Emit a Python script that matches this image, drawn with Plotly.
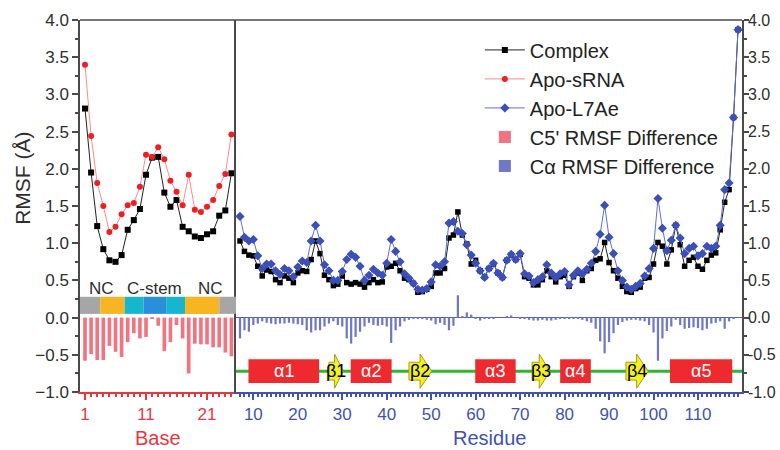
import plotly.graph_objects as go

# ---------------- data ----------------
bases = list(range(1, 26))
complex_rna = [2.81, 1.95, 1.23, 0.92, 0.77, 0.75, 0.84, 1.18, 1.31, 1.46, 1.92, 2.15, 2.16,
               1.68, 1.49, 1.58, 1.22, 1.16, 1.09, 1.07, 1.12, 1.16, 1.37, 1.44, 1.94]
apo_srna = [3.40, 2.44, 1.81, 1.50, 1.15, 1.22, 1.39, 1.51, 1.54, 1.76, 2.19, 2.16, 2.29,
            2.13, 1.84, 1.69, 1.51, 1.92, 1.45, 1.42, 1.49, 1.58, 1.77, 1.93, 2.46]
c5_diff = [-0.58, -0.49, -0.57, -0.57, -0.38, -0.46, -0.53, -0.33, -0.21, -0.28, -0.26, -0.01, -0.11,
           -0.45, -0.33, -0.10, -0.28, -0.75, -0.35, -0.36, -0.36, -0.40, -0.40, -0.47, -0.52]

residues = list(range(7, 120))
complex_prot = [
    1.03, 0.89, 0.84, 0.83, 0.69, 0.56, 0.64, 0.62, 0.51, 0.47,
    0.56, 0.53, 0.47, 0.60, 0.63, 0.62, 0.78, 1.03, 0.86, 0.57,
    0.51, 0.43, 0.45, 0.56, 0.47, 0.45, 0.47, 0.45, 0.41, 0.47,
    0.51, 0.47, 0.48, 0.68, 0.69, 0.73, 0.63, 0.53, 0.51, 0.46,
    0.34, 0.35, 0.38, 0.42, 0.60, 0.60, 0.66, 1.07, 1.11, 1.42,
    1.11, 0.99, 0.72, 0.77, 0.63, 0.55, 0.66, 0.72, 0.60, 0.54,
    0.77, 0.84, 0.78, 0.85, 0.55, 0.53, 0.44, 0.44, 0.51, 0.63,
    0.55, 0.48, 0.55, 0.57, 0.42, 0.55, 0.60, 0.50, 0.63, 0.66,
    0.77, 0.79, 1.01, 0.74, 0.63, 0.53, 0.42, 0.35, 0.34, 0.39,
    0.41, 0.53, 0.54, 0.72, 1.01, 0.96, 0.72, 0.91, 1.24, 0.98,
    0.69, 0.77, 0.81, 0.69, 0.65, 0.77, 0.84, 0.87, 1.18, 1.55,
    1.72, 2.69, 3.87]
apo_l7ae = [
    1.36, 1.08, 1.03, 1.05, 0.83, 0.66, 0.72, 0.72, 0.63, 0.58,
    0.66, 0.63, 0.55, 0.68, 0.76, 0.74, 1.03, 1.24, 1.03, 0.71,
    0.63, 0.50, 0.50, 0.62, 0.78, 0.85, 0.81, 0.69, 0.50, 0.57,
    0.65, 0.60, 0.57, 0.73, 1.05, 0.89, 0.75, 0.59, 0.53, 0.46,
    0.38, 0.37, 0.39, 0.48, 0.71, 0.69, 0.75, 1.27, 1.29, 1.16,
    1.13, 0.98, 0.84, 0.73, 0.63, 0.54, 0.66, 0.73, 0.60, 0.54,
    0.77, 0.85, 0.78, 0.86, 0.59, 0.56, 0.47, 0.51, 0.55, 0.71,
    0.60, 0.54, 0.59, 0.62, 0.44, 0.57, 0.63, 0.59, 0.65, 0.73,
    0.89, 1.12, 1.51, 1.08, 0.86, 0.63, 0.50, 0.41, 0.38, 0.42,
    0.46, 0.56, 0.66, 0.93, 1.60, 1.20, 0.90, 1.04, 1.24, 1.07,
    0.86, 0.93, 0.96, 0.83, 0.86, 0.96, 0.93, 0.96, 1.24, 1.72,
    1.81, 2.69, 3.87]
ca_diff = [
    -0.28, -0.17, -0.19, -0.10, -0.08, -0.05, -0.07, -0.08, -0.09, -0.08,
    -0.08, -0.07, -0.08, -0.09, -0.10, -0.17, -0.20, -0.17, -0.17, -0.12,
    -0.08, -0.05, -0.10, -0.12, -0.28, -0.35, -0.26, -0.19, -0.12, -0.07,
    -0.10, -0.11, -0.10, -0.12, -0.34, -0.17, -0.12, -0.05, -0.03, -0.02,
    -0.02, -0.02, -0.03, -0.04, -0.09, -0.07, -0.10, -0.17, -0.11, 0.30,
    0.02, 0.07, 0.04, -0.01, -0.04, -0.01, -0.01, -0.01, 0.00, 0.00,
    0.01, 0.03, 0.00, -0.01, -0.02, -0.03, -0.04, -0.04, -0.03, -0.04,
    -0.04, -0.03, -0.02, -0.02, -0.02, -0.01, -0.02, -0.03, -0.05, -0.07,
    -0.15, -0.32, -0.48, -0.33, -0.21, -0.10, -0.06, -0.04, -0.03, -0.03,
    -0.04, -0.05, -0.10, -0.20, -0.58, -0.28, -0.18, -0.12, -0.03, -0.10,
    -0.15, -0.14, -0.13, -0.14, -0.17, -0.15, -0.08, -0.07, -0.05, -0.15,
    -0.05, -0.01, 0.00]

# RNA region strip (base boundaries) and labels
strip_edges = [0.18, 3.5, 7.5, 10.6, 14.3, 17.4, 23.0, 25.75]
strip_colors = ["#a6a6a6", "#f7b521", "#17b6cf", "#2a8fdb", "#17b6cf", "#f7b521", "#a6a6a6"]
region_labels = ["NC", "C-stem", "NC"]
region_label_pos = [3.7, 12.4, 21.6]

# Protein secondary structure (residue ranges)
helix_names = ["α1", "α2", "α3", "α4", "α5"]
helix_start = [8.9, 31.9, 59.9, 79.0, 103.7]
helix_end = [24.8, 41.1, 69.0, 85.9, 117.7]
strand_names = ["β1", "β2", "β3", "β4"]
strand_start = [27.0, 45.0, 72.7, 93.8]
strand_end = [30.2, 50.1, 76.7, 98.8]

yticks = [-1.0, -0.5, 0.0, 0.5, 1.0, 1.5, 2.0, 2.5, 3.0, 3.5, 4.0]

# ---------------- styles ----------------
FONT = "Liberation Sans, Arial, sans-serif"
RED = "#e8373f"
BLUE = "#4352b0"
DARK = "#2e2e2e"
AXC = "#4a4a4a"

fig = go.Figure()

# Bars
fig.add_trace(go.Bar(x=bases, y=c5_diff, name="C5' RMSF Difference", marker_color="#f27480",
                     marker_line_width=0, width=0.6, xaxis="x", yaxis="y", legendrank=4))
fig.add_trace(go.Bar(x=residues, y=ca_diff, name="Cα RMSF Difference", marker_color="#6f77c6",
                     marker_line_width=0, width=0.5, xaxis="x2", yaxis="y2", legendrank=5))

# Lines
fig.add_trace(go.Scatter(x=bases, y=complex_rna, mode="lines+markers", name="Complex",
                         line=dict(color="#222222", width=1),
                         marker=dict(symbol="square", size=6, color="#000000"),
                         legendgroup="complex", xaxis="x", yaxis="y", legendrank=1))
fig.add_trace(go.Scatter(x=bases, y=apo_srna, mode="lines+markers", name="Apo-sRNA",
                         line=dict(color="#ff8a8a", width=1),
                         marker=dict(symbol="circle", size=6, color="#f01e23"),
                         xaxis="x", yaxis="y", legendrank=2))
fig.add_trace(go.Scatter(x=residues, y=complex_prot, mode="lines+markers", name="Complex",
                         line=dict(color="#222222", width=1),
                         marker=dict(symbol="square", size=5.5, color="#000000"),
                         legendgroup="complex", showlegend=False, xaxis="x2", yaxis="y2"))
fig.add_trace(go.Scatter(x=residues, y=apo_l7ae, mode="lines+markers", name="Apo-L7Ae",
                         line=dict(color="#5f6fd0", width=1),
                         marker=dict(symbol="diamond", size=7, color="#3a4fb8"),
                         xaxis="x2", yaxis="y2", legendrank=3))

shapes = []
annotations = []

# RNA strip
for i, col in enumerate(strip_colors):
    shapes.append(dict(type="rect", xref="x", yref="y", x0=strip_edges[i], x1=strip_edges[i + 1],
                       y0=0.05, y1=0.28, fillcolor=col, line_width=0, layer="above"))
for lab, pos in zip(region_labels, region_label_pos):
    annotations.append(dict(x=pos, y=0.39, xref="x", yref="y", text=lab, showarrow=False,
                            font=dict(size=17, color=DARK, family=FONT)))

# secondary structure backbone
shapes.append(dict(type="line", xref="x2", yref="y2", x0=6.1, x1=119.9, y0=-0.72, y1=-0.72,
                   line=dict(color="#2fb52f", width=3)))
for nm, s, e in zip(helix_names, helix_start, helix_end):
    shapes.append(dict(type="rect", xref="x2", yref="y2", x0=s, x1=e, y0=-0.88, y1=-0.56,
                       fillcolor="#ee2a2f", line_width=0))
    annotations.append(dict(x=(s + e) / 2, y=-0.72, xref="x2", yref="y2", text=nm, showarrow=False,
                            font=dict(size=18, color="white", family=FONT)))
for nm, s, e in zip(strand_names, strand_start, strand_end):
    hl = min(2.6, 0.6 * (e - s))
    h = e - hl
    path = (f"M {s},-0.60 L {h},-0.60 L {h},-0.49 L {e},-0.72 L {h},-0.95 "
            f"L {h},-0.84 L {s},-0.84 Z")
    shapes.append(dict(type="path", xref="x2", yref="y2", path=path,
                       fillcolor="#f4f21c", line=dict(color="#a89c18", width=1)))
    annotations.append(dict(x=(s + e) / 2, y=-0.72, xref="x2", yref="y2", text=nm, showarrow=False,
                            font=dict(size=18, color="black", family=FONT)))

# right-hand axis tick labels (placed tight to the axis, as in the original)
for t in yticks:
    annotations.append(dict(x=1, y=t, xref="paper", yref="y2", text=f"{t:.1f}", showarrow=False,
                            xanchor="left", yanchor="middle", xshift=4,
                            font=dict(size=16, color=DARK, family=FONT)))

# top frame line
shapes.append(dict(type="line", xref="paper", yref="paper", x0=0, x1=1, y0=1, y1=1,
                   line=dict(color=AXC, width=1.5)))

# axis titles
annotations.append(dict(x=-0.088, y=0.575, xref="paper", yref="paper", text="RMSF (Å)",
                        xanchor="center", yanchor="middle",
                        textangle=-90, showarrow=False, font=dict(size=21, color=DARK, family=FONT)))
annotations.append(dict(x=0.118, y=-0.124, xref="paper", yref="paper", text="Base",
                        xanchor="center", yanchor="middle", showarrow=False,
                        font=dict(size=20, color=RED, family=FONT)))
annotations.append(dict(x=0.619, y=-0.124, xref="paper", yref="paper", text="Residue",
                        xanchor="center", yanchor="middle", showarrow=False,
                        font=dict(size=20, color=BLUE, family=FONT)))

split = (236 - 80) / 662.0

fig.update_layout(
    width=780, height=450,
    margin=dict(l=80, r=38, t=20, b=58),
    paper_bgcolor="white", plot_bgcolor="white",
    font=dict(family=FONT, color=DARK),
    barmode="overlay",
    showlegend=True,
    legend=dict(x=0.604, y=0.972, xanchor="left", yanchor="top", bgcolor="rgba(0,0,0,0)",
                font=dict(size=20, color="#222222", family=FONT), tracegroupgap=0,
                itemwidth=40),
    shapes=shapes,
    annotations=annotations,
    xaxis=dict(domain=[0, split], range=[0.18, 25.75], anchor="y", automargin=False,
               tick0=1, dtick=10, ticks="outside", ticklen=6, tickwidth=1.5, tickcolor=RED,
               showline=True, linecolor=RED, linewidth=1.5, showgrid=False, zeroline=False,
               tickfont=dict(size=17, color=RED, family=FONT),
               minor=dict(ticks="outside", dtick=1, ticklen=3, tickcolor=RED, showgrid=False)),
    xaxis2=dict(domain=[split, 1], range=[6.1, 119.9], anchor="y2", automargin=False,
                tick0=0, dtick=10, ticks="outside", ticklen=6, tickwidth=1.5, tickcolor=BLUE,
                showline=True, linecolor=BLUE, linewidth=1.5, showgrid=False, zeroline=False,
                tickfont=dict(size=17, color=BLUE, family=FONT),
                minor=dict(ticks="outside", dtick=1, ticklen=3, tickcolor=BLUE, showgrid=False)),
    yaxis=dict(range=[-1, 4], anchor="x", tickvals=yticks, tickformat=".1f", automargin=False,
               ticks="outside", ticklen=6, tickwidth=1.5, tickcolor=AXC,
               showline=True, linecolor=AXC, linewidth=1.5, mirror=False,
               showgrid=False, zeroline=False,
               tickfont=dict(size=17, color=DARK, family=FONT),
               minor=dict(ticks="outside", dtick=0.25, ticklen=3, tickcolor=AXC, showgrid=False)),
    yaxis2=dict(range=[-1, 4], anchor="x2", side="right", tickvals=yticks, automargin=False,
                showticklabels=False,
                ticks="outside", ticklen=5, tickwidth=1.5, tickcolor=AXC,
                showline=True, linecolor=AXC, linewidth=1.5, mirror=True,
                showgrid=False, zeroline=True, zerolinecolor="#5060c0", zerolinewidth=1,
                minor=dict(ticks="outside", dtick=0.25, ticklen=3, tickcolor=AXC, showgrid=False)),
)

# remove the browser's default 8px page margin so the 780x450 figure sits at the window origin
fig.write_html("out.html", config={"displayModeBar": False},
               post_script="document.body.style.margin='0';")
